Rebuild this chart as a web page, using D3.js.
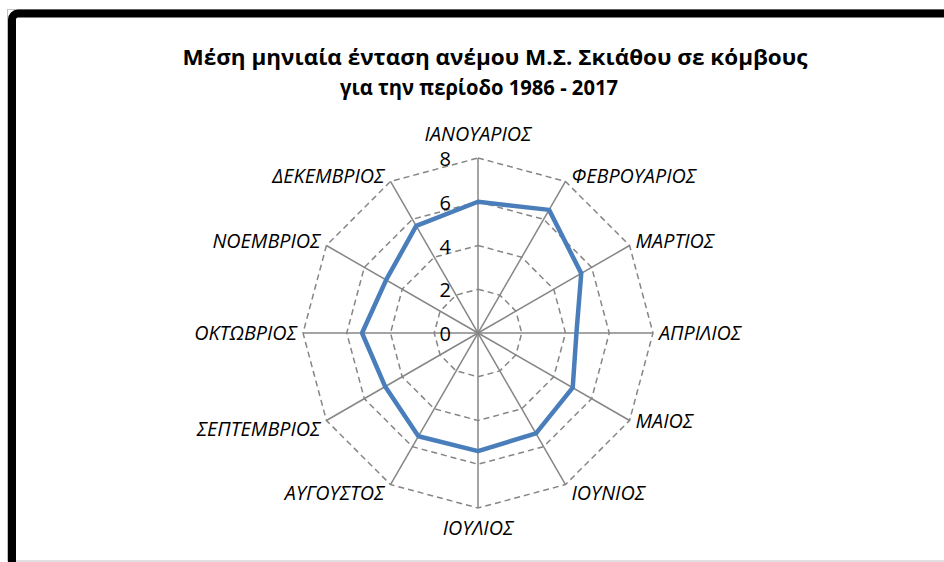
<!DOCTYPE html>
<html><head><meta charset="utf-8">
<script src="https://cdn.jsdelivr.net/npm/d3@7"></script>
<style>html,body{margin:0;padding:0;background:#fff;overflow:hidden}</style>
</head><body>
<svg id="c" width="944" height="562"></svg>
<script>
const titleLines = ["Μέση μηνιαία ένταση ανέμου Μ.Σ. Σκιάθου σε κόμβους", "για την περίοδο 1986 - 2017"];
const months = ["ΙΑΝΟΥΑΡΙΟΣ","ΦΕΒΡΟΥΑΡΙΟΣ","ΜΑΡΤΙΟΣ","ΑΠΡΙΛΙΟΣ","ΜΑΙΟΣ","ΙΟΥΝΙΟΣ","ΙΟΥΛΙΟΣ","ΑΥΓΟΥΣΤΟΣ","ΣΕΠΤΕΜΒΡΙΟΣ","ΟΚΤΩΒΡΙΟΣ","ΝΟΕΜΒΡΙΟΣ","ΔΕΚΕΜΒΡΙΟΣ"];
const windSpeed = [6.0, 6.5, 5.45, 4.5, 5.0, 5.3, 5.4, 5.45, 4.9, 5.3, 4.85, 5.65];
const tickValues = [0, 2, 4, 6, 8];

const svg = d3.select("#c");
const cx = 478, cy = 333, R = 175;
const r = d3.scaleLinear().domain([0, 8]).range([0, R]);
const ang = d3.scaleLinear().domain([0, months.length]).range([0, 2 * Math.PI]);
const pt = (i, v) => [cx + r(v) * Math.sin(ang(i)), cy - r(v) * Math.cos(ang(i))];

// frame
svg.append("rect").attr("x", 7.5).attr("y", 9.5).attr("width", 1100).attr("height", 551.5)
  .attr("fill", "none").attr("stroke", "#c0c0c0").attr("stroke-width", 1);
svg.append("rect").attr("x", 12).attr("y", 13.5).attr("width", 1100).attr("height", 1100)
  .attr("rx", 6).attr("fill", "none").attr("stroke", "#000").attr("stroke-width", 8);

// title
const titleWidths = [625, 278];
const titleX = [495, 479];
const title = svg.append("text").attr("text-anchor", "middle")
  .attr("font-family", "'Open Sans', sans-serif").attr("font-weight", "bold")
  .attr("font-size", 21.5).attr("fill", "#000");
titleLines.forEach((t, k) => title.append("tspan").attr("x", titleX[k]).attr("y", 65 + k * 30)
  .attr("textLength", titleWidths[k]).attr("lengthAdjust", "spacingAndGlyphs").text(t));

// rings
const ringLine = d3.line();
tickValues.filter(v => v > 0).forEach(v => {
  const pts = months.map((m, i) => pt(i, v));
  svg.append("path").attr("d", ringLine(pts) + "Z").attr("fill", "none")
    .attr("stroke", "#868686").attr("stroke-width", 1.5).attr("stroke-dasharray", "6,4");
});
// spokes
months.forEach((m, i) => {
  const [x, y] = pt(i, 8);
  svg.append("line").attr("x1", cx).attr("y1", cy).attr("x2", x).attr("y2", y)
    .attr("stroke", "#868686").attr("stroke-width", 1.5);
});

// series
const line = d3.line().curve(d3.curveLinearClosed);
svg.append("path").attr("d", line(windSpeed.map((v, i) => pt(i, v))))
  .attr("fill", "none").attr("stroke", "#4a7ebb").attr("stroke-width", 4.5).attr("stroke-linejoin", "round");

// tick labels
svg.selectAll(".tick").data(tickValues).enter().append("text")
  .attr("x", cx - 27).attr("y", d => cy - r(d) + 8).attr("text-anchor", "end")
  .attr("font-family", "'Open Sans', sans-serif").attr("font-size", 20).attr("fill", "#000")
  .text(d => d);

// category labels
months.forEach((m, i) => {
  const a = ang(i);
  const [x, y] = pt(i, 8);
  const s = Math.sin(a), c = Math.cos(a);
  let anchor = Math.abs(s) < 0.01 ? "middle" : (s > 0 ? "start" : "end");
  let dx = Math.abs(s) < 0.01 ? 0 : (s > 0 ? 6 : -6);
  let dy = Math.abs(s) < 0.01 ? (c > 0 ? -17 : 27) : (c > 0.5 ? 2 : (c < -0.5 ? 15 : 7));
  svg.append("text").attr("x", x + dx).attr("y", y + dy).attr("text-anchor", anchor)
    .attr("font-family", "'Open Sans', sans-serif").attr("font-style", "italic")
    .attr("font-size", 19.8).attr("fill", "#000").text(m);
});
</script>
</body></html>
